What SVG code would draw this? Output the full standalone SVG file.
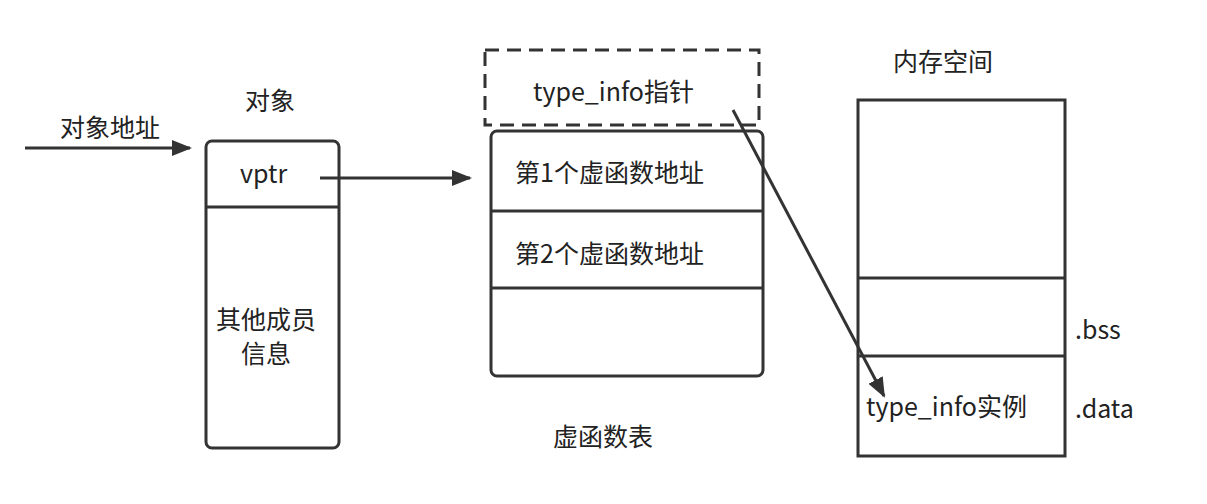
<svg xmlns="http://www.w3.org/2000/svg" width="1207" height="504" viewBox="0 0 1207 504">
<style>
text{font-family:"Noto Sans CJK SC","Noto Sans",sans-serif;font-size:25px;fill:#222}
.b{fill:none;stroke:#333;stroke-width:3}
.c{stroke:#333;stroke-width:3;fill:none}
</style>
<defs>
<marker id="m" viewBox="0 0 10 10" refX="9" refY="5" markerWidth="20" markerHeight="16" orient="auto" markerUnits="userSpaceOnUse" preserveAspectRatio="none"><path d="M0,0L10,5L0,10z" fill="#333"/></marker></defs>
<rect width="1207" height="504" fill="#fff"/>
<g id="obj">
<text x="245" y="110">对象</text>
<rect class="b" x="206" y="141" width="133" height="307" rx="6"/>
<line class="b" x1="206" y1="207" x2="339" y2="207"/>
<text x="240" y="183">vptr</text>
<text x="216" y="329">其他成员</text>
<text x="241" y="363">信息</text>
</g>
<g id="addr"><text x="60" y="137">对象地址</text></g>
<g id="typeptr">
<rect x="485" y="50" width="274" height="75" fill="none" stroke="#333" stroke-width="3" stroke-dasharray="14,8"/>
<text x="533" y="101">type_info指针</text>
</g>
<g id="vtable">
<rect class="b" x="491" y="131" width="272" height="245" rx="6"/>
<line class="b" x1="491" y1="211" x2="763" y2="211"/>
<line class="b" x1="491" y1="288" x2="763" y2="288"/>
<text x="515" y="182">第1个虚函数地址</text>
<text x="515" y="263">第2个虚函数地址</text>
<text x="553" y="446">虚函数表</text>
</g>
<g id="mem">
<text x="893" y="71">内存空间</text>
<rect class="b" x="858" y="100" width="207" height="356"/>
<line class="b" x1="858" y1="278" x2="1065" y2="278"/>
<line class="b" x1="858" y1="356" x2="1065" y2="356"/>
<text x="866" y="416">type_info实例</text>
<text x="1075" y="339">.bss</text>
<text x="1075" y="418">.data</text>
</g>
<g id="connectors">
<line class="c" x1="25" y1="148" x2="190" y2="148" marker-end="url(#m)"/>
<line class="c" x1="320" y1="178" x2="470" y2="178" marker-end="url(#m)"/>
<line class="c" x1="733" y1="110" x2="884" y2="396" marker-end="url(#m)"/>
</g>
</svg>
